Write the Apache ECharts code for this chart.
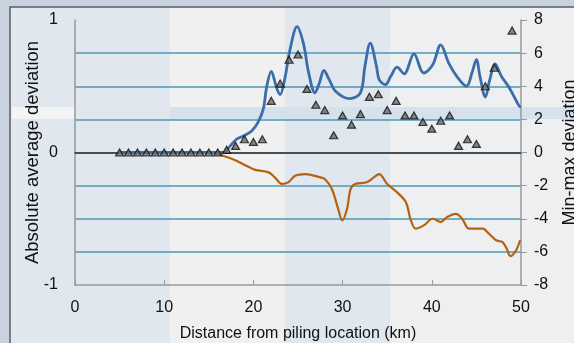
<!DOCTYPE html>
<html>
<head>
<meta charset="utf-8">
<script src="https://cdn.jsdelivr.net/npm/echarts@6/dist/echarts.min.js"></script>
<style>
html,body{margin:0;padding:0;background:#c9d3df;}
#c{width:574px;height:343px;}
</style>
</head>
<body>
<div id="c"></div>
<script>
// Absolute average deviation (left axis), triangles
const avgDistance = [5,6,7,8,9,10,11,12,13,14,15,16,17,18,19,20,21,22,23,24,25,26,27,28,29,30,31,32,33,34,35,36,37,38,39,40,41,42,43,44,45,46,47,49];
const avgValues   = [0,0,0,0,0,0,0,0,0,0,0,0,0.02,0.05,0.1,0.08,0.1,0.39,0.52,0.70,0.74,0.48,0.36,0.32,0.13,0.28,0.21,0.29,0.42,0.44,0.32,0.39,0.28,0.28,0.23,0.18,0.24,0.28,0.05,0.10,0.065,0.50,0.64,0.92];

// Max deviation (right axis), blue line
const maxDistance = [5,10,16.6,17.4,18.1,18.9,19.8,20.5,21.1,21.5,22.0,22.6,23.0,23.5,24.1,24.9,25.6,26.2,26.9,27.4,27.9,28.5,29.2,30.8,32.0,32.5,33.1,33.8,34.1,34.8,35.4,36.1,36.9,38.0,39.1,40.1,41.0,41.9,42.8,43.9,44.5,45.0,45.4,46.0,46.5,47.1,47.8,48.7,49.8,50];
const maxValues   = [0,0,0,0.4,0.8,1.0,1.3,1.8,2.6,4.0,4.9,3.9,3.5,4.4,6.2,7.6,6.6,4.8,3.6,4.2,4.95,4.4,3.7,3.25,3.6,5.2,6.6,5.2,4.4,4.1,4.6,5.15,4.75,5.95,4.8,5.3,6.5,5.4,4.6,4.0,4.8,5.6,4.6,3.35,4.4,5.35,4.6,3.9,2.8,2.75];

// Min deviation (right axis), brown line
const minDistance = [5,10,15.1,16.6,18.1,19.2,20.2,21.7,22.4,23.2,23.9,24.7,25.8,27.5,28.0,28.8,29.5,29.97,30.5,30.9,31.4,32.7,33.5,34.1,35.0,36.1,37.1,37.6,38.2,39.1,40.1,41.0,41.7,42.7,43.4,44.2,45.7,46.4,47.2,47.9,48.4,48.8,49.4,49.9];
const minValues   = [0,0,0,-0.2,-0.5,-0.8,-1.05,-1.2,-1.5,-1.9,-1.8,-1.4,-1.3,-1.5,-1.6,-2.2,-3.4,-4.1,-3.4,-2.2,-1.9,-1.8,-1.5,-1.3,-1.9,-2.4,-3.0,-4.0,-4.6,-4.4,-4.0,-4.2,-3.9,-3.7,-4.0,-4.6,-4.6,-4.9,-5.3,-5.4,-5.8,-6.25,-5.95,-5.3];

const xTicks = [0,10,20,30,40,50];
const leftTicks = [-1,0,1];
const rightTicks = [-8,-6,-4,-2,0,2,4,6,8];

const zip = (a,b) => a.map((v,i)=>[v,b[i]]);
const font = 'Liberation Sans, Arial, sans-serif';

const chart = echarts.init(document.getElementById('c'), null, {renderer:'canvas'});
chart.setOption({
  backgroundColor: '#c9d3df',
  animation: false,
  graphic: [
    {type:'rect', z:-10, shape:{x:10,y:7,width:600,height:400}, style:{fill:'#e1e7ef', stroke:'#5a5f66', lineWidth:1.5}},
    {type:'rect', z:-9, shape:{x:170,y:8,width:115,height:340}, style:{fill:'#f0f0f1'}},
    {type:'rect', z:-9, shape:{x:390,y:8,width:190,height:340}, style:{fill:'#eeeff1'}},
    {type:'rect', z:-8, shape:{x:170,y:107,width:410,height:12}, style:{fill:'#d6e1ee'}},
    {type:'rect', z:-8, shape:{x:12,y:107,width:63,height:12}, style:{fill:'#f3f4f5'}}
  ],
  grid: {left:75, right:53, top:20, bottom:58, show:false, containLabel:false, outerBoundsMode:'none'},
  xAxis: [{
    type:'value', min:0, max:50, interval:10,
    name:'Distance from piling location (km)', nameLocation:'middle', nameGap:41, nameMoveOverlap:false,
    nameTextStyle:{fontFamily:font, fontSize:16, color:'#111'},
    axisLine:{show:true, onZero:false, lineStyle:{color:'#9a9a9a', width:1.5}},
    axisTick:{show:true, inside:true, length:5, lineStyle:{color:'#9a9a9a'}},
    axisLabel:{fontFamily:font, fontSize:16, color:'#111', margin:15,
      formatter: v => xTicks.includes(v) ? String(v) : ''},
    splitLine:{show:false}
  },{
    type:'value', min:0, max:50, position:'top',
    axisLine:{show:true, lineStyle:{color:'#333', width:1.5}},
    axisTick:{show:false}, axisLabel:{show:false}, splitLine:{show:false}
  }],
  yAxis: [{
    type:'value', min:-1, max:1, interval:1, position:'left',
    name:'Absolute average deviation', nameLocation:'middle', nameGap:33, nameMoveOverlap:false,
    nameTextStyle:{fontFamily:font, fontSize:18.5, color:'#111'},
    axisLine:{show:true, onZero:false, lineStyle:{color:'#9a9a9a', width:1.5}},
    axisTick:{show:false},
    axisLabel:{fontFamily:font, fontSize:16, color:'#111', margin:17,
      formatter: v => leftTicks.includes(v) ? String(v) : ''},
    splitLine:{show:false}
  },{
    type:'value', min:-8, max:8, interval:2, position:'right',
    name:'Min-max deviation', nameLocation:'middle', nameGap:40,
    nameTextStyle:{fontFamily:font, fontSize:18, color:'#111'},
    axisLine:{show:true, onZero:false, lineStyle:{color:'#9a9a9a', width:1.5}},
    axisTick:{show:true, length:6, lineStyle:{color:'#9a9a9a'}},
    axisLabel:{fontFamily:font, fontSize:16, color:'#111', margin:13,
      formatter: v => rightTicks.includes(v) ? String(v) : ''},
    splitLine:{show:true, showMinLine:false, showMaxLine:false, lineStyle:{color:'#4b98b3', width:1.5}}
  }],
  series: [{
    type:'line', xAxisIndex:0, yAxisIndex:1, data: zip(minDistance, minValues),
    smooth:0.35, showSymbol:false, lineStyle:{color:'#b5620f', width:2.2}, z:3
  },{
    type:'line', xAxisIndex:0, yAxisIndex:1, data: zip(maxDistance, maxValues),
    smooth:0.35, showSymbol:false, lineStyle:{color:'#3b6ea9', width:2.8}, z:4
  },{
    type:'scatter', xAxisIndex:0, yAxisIndex:0, data: zip(avgDistance, avgValues),
    symbol:'triangle', symbolSize:[8,7],
    itemStyle:{color:'#6b6b6b', borderColor:'#111', borderWidth:1.2}, z:5
  }]
});
</script>
</body>
</html>
